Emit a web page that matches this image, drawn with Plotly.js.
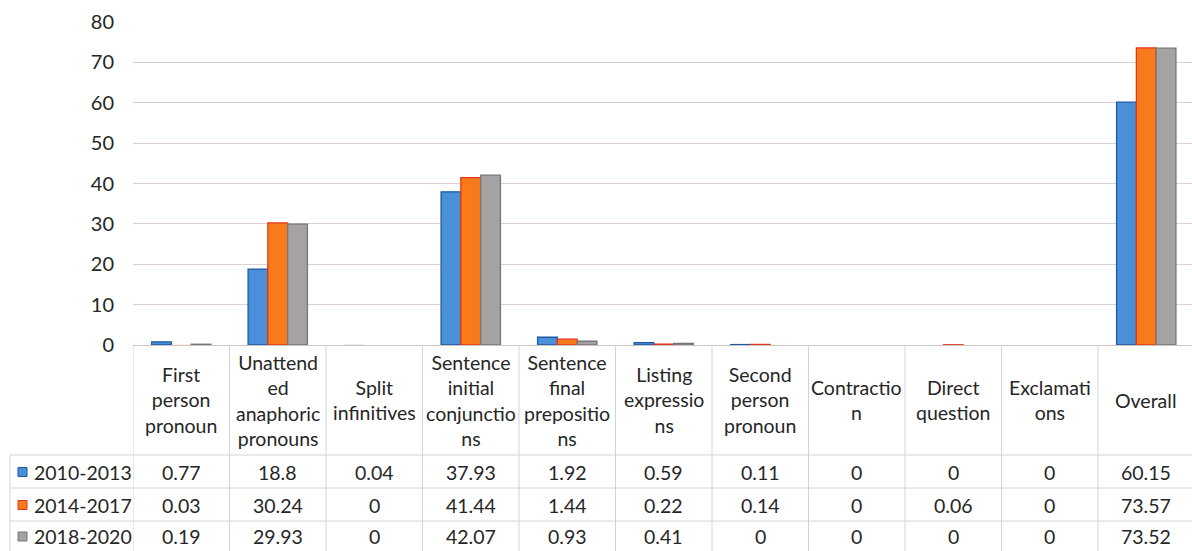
<!DOCTYPE html>
<html>
<head>
<meta charset="utf-8">
<script src="https://cdn.plot.ly/plotly-3.0.1.min.js"></script>
<style>html,body{margin:0;padding:0;background:#fff;}#chart{width:1192px;height:551px;}</style>
</head>
<body>
<div id="chart"></div>
<script>
// ---- data ----
const categories = ["First person pronoun","Unattended anaphoric pronouns","Split infinitives",
  "Sentence initial conjunctions","Sentence final prepositions","Listing expressions",
  "Second person pronoun","Contraction","Direct question","Exclamations","Overall"];
const headerLabels = ["First<br>person<br>pronoun","Unattend<br>ed<br>anaphoric<br>pronouns",
  "Split<br>infinitives","Sentence<br>initial<br>conjunctio<br>ns","Sentence<br>final<br>prepositio<br>ns",
  "Listing<br>expressio<br>ns","Second<br>person<br>pronoun","Contractio<br>n","Direct<br>question",
  "Exclamati<br>ons","Overall"];
const seriesNames = ["2010-2013","2014-2017","2018-2020"];
const s2010_2013 = [0.77, 18.8, 0.04, 37.93, 1.92, 0.59, 0.11, 0, 0, 0, 60.15];
const s2014_2017 = [0.03, 30.24, 0, 41.44, 1.44, 0.22, 0.14, 0, 0.06, 0, 73.57];
const s2018_2020 = [0.19, 29.93, 0, 42.07, 0.93, 0.41, 0, 0, 0, 0, 73.52];
const yTicks = [0,10,20,30,40,50,60,70,80];

// ---- style ----
const fills = ["#4a8fd8","#f97a1a","#a4a2a2"];
const edges = ["#1d5aa6","#e2361a","#767676"];
const seriesData = [s2010_2013, s2014_2017, s2018_2020];
const FONT = "Lato, 'Noto Sans', sans-serif";
const TXT = "#262626";
const FS = 19.5;
const W = 1192, H = 551, ML = 133, MT = 22, MB = 206, MR = 0;
const plotW = W - ML - MR, plotH = H - MT - MB;
const py = p => (MT + plotH - p) / plotH;      // pixel y -> paper y
const px = p => (p - ML) / plotW;              // pixel x -> paper x
const lineCol = "#d4d4d4";

const traces = seriesData.map((vals, k) => ({
  type: "bar", name: seriesNames[k], x: categories, y: vals,
  marker: {color: fills[k], line: {color: edges[k], width: vals.map(v => v > 0.05 ? 1.3 : 0)}},
  hoverinfo: "x+y+name"
}));

const shapes = [];
const annotations = [];
const rowY = [455, 488, 521, 551];
// horizontal table lines
[455, 488, 521].forEach(p => shapes.push({type:"line", xref:"paper", yref:"paper",
  x0: px(10), x1: 1, y0: py(p), y1: py(p), line:{color:lineCol, width:1}}));
// left border of legend column
shapes.push({type:"line", xref:"paper", yref:"paper", x0:px(10), x1:px(10), y0:py(455), y1:py(560), line:{color:lineCol,width:1}});
// vertical column lines
for (let i = 0; i <= categories.length; i++) {
  shapes.push({type:"line", xref:"x", yref:"paper", x0:i-0.5, x1:i-0.5, y0:0, y1:py(560), line:{color:lineCol,width:1}});
}
// header labels
headerLabels.forEach((t, i) => annotations.push({xref:"x", yref:"paper", x:i, y:py(400),
  text:t, showarrow:false, xanchor:"center", yanchor:"middle",
  font:{family:FONT, size:FS, color:TXT}}));
// data rows
seriesData.forEach((vals, k) => {
  const cy = (rowY[k] + rowY[k+1]) / 2 + 0.5;
  vals.forEach((v, i) => annotations.push({xref:"x", yref:"paper", x:i, y:py(cy),
    text:String(v), showarrow:false, xanchor:"center", yanchor:"middle",
    font:{family:FONT, size:FS, color:TXT}}));
  annotations.push({xref:"paper", yref:"paper", x:px(32), y:py(cy), text:seriesNames[k],
    showarrow:false, xanchor:"left", yanchor:"middle", font:{family:FONT, size:FS, color:TXT}});
  shapes.push({type:"rect", xref:"paper", yref:"paper", x0:px(18), x1:px(27), y0:py(cy-4.5), y1:py(cy+4.5),
    fillcolor:fills[k], line:{color:edges[k], width:1}});
});

const layout = {
  width: W, height: H,
  margin: {l: ML, r: MR, t: MT, b: MB, pad: 0},
  paper_bgcolor: "#fff", plot_bgcolor: "#fff",
  showlegend: false,
  barmode: "group", bargap: 0.385, bargroupgap: 0,
  font: {family: FONT, color: TXT},
  xaxis: {type:"category", range:[-0.5, 10.474], showticklabels:false, showgrid:false,
    zeroline:false, showline:false, ticks:"", fixedrange:true},
  yaxis: {range:[0,80], tickvals:yTicks, ticktext:yTicks.map(String), showgrid:true,
    gridcolor:"#dccfcf", gridwidth:1, zeroline:true, zerolinecolor:"#cfc4c4", zerolinewidth:1,
    showline:false, ticks:"", ticklabelstandoff:18,
    tickfont:{family:FONT, size:20, color:TXT}, fixedrange:true},
  shapes: shapes,
  annotations: annotations
};

Plotly.newPlot("chart", traces, layout, {displayModeBar:false, staticPlot:true});
</script>
</body>
</html>
